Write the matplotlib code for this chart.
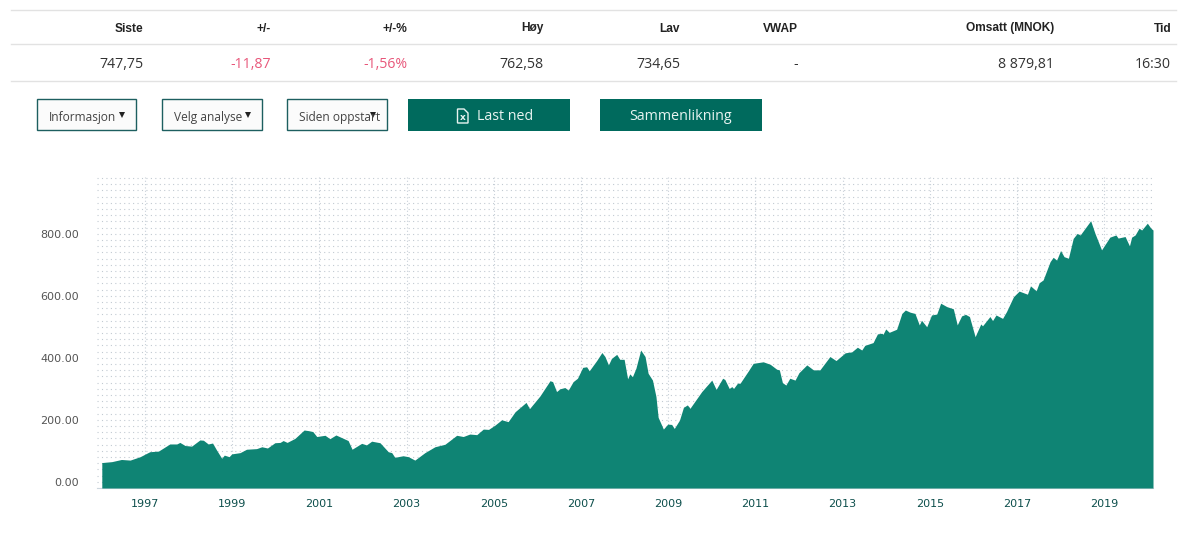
#!/usr/bin/env python3
import matplotlib
matplotlib.use('Agg')
import matplotlib.pyplot as plt
from matplotlib.patches import Rectangle, Polygon
from matplotlib.ticker import MultipleLocator
from matplotlib.transforms import ScaledTranslation

# table
headers = ['Siste', '+/-', '+/-%', 'Høy', 'Lav', 'VWAP', 'Omsatt (MNOK)', 'Tid']
values = ['747,75', '-11,87', '-1,56%', '762,58', '734,65', '-', '8 879,81', '16:30']
right_edges = [143, 271, 407, 544, 680, 798, 1054, 1171]

dropdowns = ['Informasjon', 'Velg analyse', 'Siden oppstart']
buttons = ['Last ned', 'Sammenlikning']

# chart
y_ticks = [0, 200, 400, 600, 800]
x_ticks = [1997, 1999, 2001, 2003, 2005, 2007, 2009, 2011, 2013, 2015, 2017, 2019]

years = [1996.01, 1996.24, 1996.46, 1996.66, 1996.89, 1997.11, 1997.31, 1997.57, 1997.73, 1997.80,
         1997.92, 1998.07, 1998.26, 1998.34, 1998.45, 1998.55, 1998.64, 1998.76, 1998.82, 1998.93,
         1998.99, 1999.18, 1999.33, 1999.56, 1999.68, 1999.81, 1999.98, 2000.10, 2000.17, 2000.26,
         2000.44, 2000.65, 2000.75, 2000.85, 2000.94, 2001.13, 2001.24, 2001.38, 2001.66, 2001.75,
         2001.97, 2002.08, 2002.20, 2002.39, 2002.58, 2002.66, 2002.73, 2002.92, 2003.04, 2003.19,
         2003.42, 2003.65, 2003.88, 2004.15, 2004.30, 2004.45, 2004.61, 2004.76, 2004.88, 2005.03,
         2005.18, 2005.33, 2005.49, 2005.74, 2005.82, 2006.06, 2006.29, 2006.35, 2006.44, 2006.52,
         2006.63, 2006.71, 2006.82, 2006.92, 2007.04, 2007.13, 2007.19, 2007.36, 2007.48, 2007.55,
         2007.63, 2007.70, 2007.82, 2007.89, 2007.99, 2008.07, 2008.12, 2008.18, 2008.26, 2008.37,
         2008.47, 2008.54, 2008.64, 2008.72, 2008.77, 2008.89, 2008.99, 2009.08, 2009.14, 2009.26,
         2009.35, 2009.44, 2009.50, 2009.77, 2010.00, 2010.10, 2010.25, 2010.30, 2010.40, 2010.46,
         2010.50, 2010.59, 2010.65, 2010.84, 2010.95, 2011.18, 2011.34, 2011.49, 2011.55, 2011.62,
         2011.70, 2011.79, 2011.91, 2012.00, 2012.18, 2012.33, 2012.48, 2012.71, 2012.85, 2013.06,
         2013.21, 2013.34, 2013.44, 2013.51, 2013.70, 2013.80, 2013.90, 2013.93, 2013.99, 2014.07,
         2014.24, 2014.36, 2014.44, 2014.55, 2014.66, 2014.76, 2014.81, 2014.93, 2015.04, 2015.16,
         2015.25, 2015.39, 2015.54, 2015.63, 2015.73, 2015.82, 2015.91, 2016.04, 2016.17, 2016.21,
         2016.38, 2016.44, 2016.52, 2016.67, 2016.76, 2016.92, 2017.05, 2017.24, 2017.31, 2017.44,
         2017.51, 2017.60, 2017.76, 2017.83, 2017.91, 2018.00, 2018.08, 2018.18, 2018.29, 2018.38,
         2018.45, 2018.69, 2018.79, 2018.94, 2019.13, 2019.27, 2019.32, 2019.48, 2019.58, 2019.63,
         2019.71, 2019.80, 2019.86, 2019.99, 2020.07, 2020.12]

index = [82, 85, 92, 90, 101, 117, 119, 142, 142, 147,
         137, 135, 155, 154, 142, 145, 123, 96, 106, 101,
         110, 114, 125, 127, 133, 129, 146, 147, 153, 147,
         160, 187, 185, 182, 166, 170, 159, 171, 153, 125,
         144, 139, 151, 146, 117, 114, 99, 104, 101, 90,
         114, 133, 141, 170, 166, 174, 172, 190, 189, 203,
         220, 214, 246, 276, 256, 297, 346, 343, 311, 320,
         324, 316, 343, 354, 389, 391, 378, 411, 437, 424,
         397, 418, 431, 415, 415, 352, 368, 359, 386, 445,
         424, 370, 348, 295, 228, 190, 206, 205, 192, 219,
         260, 268, 257, 311, 348, 318, 354, 350, 321, 327,
         321, 338, 338, 378, 402, 407, 399, 383, 381, 340,
         332, 354, 348, 372, 397, 381, 381, 424, 411, 436,
         439, 454, 445, 460, 469, 497, 499, 496, 513, 502,
         512, 563, 574, 567, 563, 526, 541, 520, 558, 561,
         596, 585, 578, 526, 555, 560, 553, 488, 529, 523,
         553, 540, 558, 547, 569, 617, 635, 625, 652, 636,
         662, 671, 730, 744, 735, 766, 746, 741, 805, 821,
         816, 862, 821, 768, 809, 816, 806, 811, 781, 809,
         816, 838, 832, 854, 838, 832]

GREEN = '#0f8474'
BUTTON = '#006a5d'
W, H = 1189, 538

fig = plt.figure(figsize=(W / 100, H / 100), dpi=100, facecolor='white')

ax = fig.add_axes([97 / W, (H - 488) / H, (1153 - 97) / W, (488 - 177) / H])
ax.fill_between(years, index, 0, color=GREEN, lw=0, zorder=3)
ax.set_xlim(1995.90, 2020.12)
ax.set_ylim(0, 1003)
ax.set_xticks(x_ticks)
ax.set_xticklabels([str(y) for y in x_ticks], fontsize=8, color='#0d4f4c', family='DejaVu Sans')
ax.set_yticks(y_ticks)
ax.set_yticklabels(['%.2f' % v for v in y_ticks], fontsize=8, color='#555555', family='DejaVu Sans')
ax.yaxis.set_minor_locator(MultipleLocator(20))
ax.tick_params(which='both', length=0)
ax.tick_params(axis='x', pad=8)
ax.tick_params(axis='y', pad=13)
for lab in ax.get_yticklabels():
    lab.set_transform(lab.get_transform() + ScaledTranslation(0, 6 / 100, fig.dpi_scale_trans))
ax.grid(True, axis='y', which='both', color='#c2cad2', lw=0.8, ls=(0, (1, 3)), zorder=0)
ax.grid(True, axis='x', which='major', color='#c8d0d8', lw=0.8, ls=(0, (1, 2)), zorder=0)
for side in ['top', 'left', 'right']:
    ax.spines[side].set_visible(False)
ax.spines['bottom'].set_color('#ccd6dd')
ax.spines['bottom'].set_linewidth(0.8)

# page parts around the chart, in pixels
ui = fig.add_axes([0, 0, 1, 1])
ui.set_xlim(0, W)
ui.set_ylim(H, 0)
ui.axis('off')

for y in [10, 44, 81]:
    ui.plot([11, 1176], [y, y], color='#e2e2e2', lw=1)

for i in range(len(headers)):
    ui.text(right_edges[i], 28.5, headers[i], ha='right', va='center', fontsize=8.6,
            fontweight='bold', family='Liberation Sans', color='#222222')
    col = '#e8577a' if i in (1, 2) else '#333333'
    ui.text(right_edges[i], 64.5, values[i], ha='right', va='center', fontsize=10.2,
            family='Open Sans', color=col)

box_left = [37, 162, 287]
box_right = [136, 262, 387]
caret_x = [122, 248, 373]
for i in range(3):
    ui.add_patch(Rectangle((box_left[i], 99), box_right[i] - box_left[i], 31, fc='#fbfbfb',
                           ec='#1d5f60', lw=1))
    ui.text(box_left[i] + 12, 117, dropdowns[i], ha='left', va='center', fontsize=8.6,
            family='Open Sans', color='#444444')
    ui.plot([caret_x[i]], [114.5], marker='v', ms=4.5, color='#222222', mew=0)

ui.add_patch(Rectangle((408, 99), 162, 32, fc=BUTTON, ec='none'))
ui.add_patch(Rectangle((600, 99), 162, 32, fc=BUTTON, ec='none'))
ui.text(505, 117, buttons[0], ha='center', va='center', fontsize=10.3, family='Open Sans', color='#e8f4f1')
ui.text(681, 117, buttons[1], ha='center', va='center', fontsize=10.3, family='Open Sans', color='#e8f4f1')

# excel file icon
ui.add_patch(Polygon([(457.5, 109), (464, 109), (468, 113), (468, 123), (457.5, 123)], closed=True,
                     fc='none', ec='#e8f4f1', lw=1))
ui.text(462.8, 117.5, 'x', ha='center', va='center', fontsize=6.5, fontweight='bold',
        family='DejaVu Sans', color='#e8f4f1')

plt.savefig('out.png', dpi=100)
